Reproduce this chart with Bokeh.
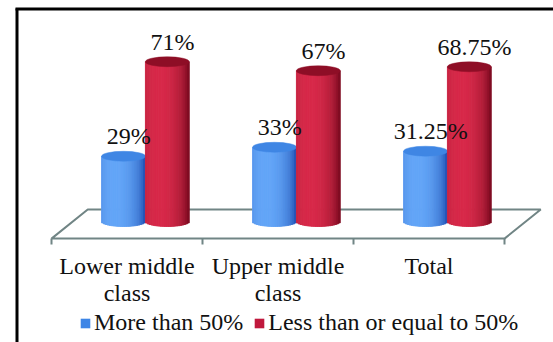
import numpy as np
from bokeh.plotting import figure
from bokeh.models import Range1d, ColumnDataSource, Legend, LegendItem
from bokeh.core.properties import value
from bokeh.embed import file_html
from bokeh.resources import INLINE

# ---- data -------------------------------------------------------------
categories = ["Lower middle\nclass", "Upper middle\nclass", "Total"]
series_names = ["More than 50%", "Less than or equal to 50%"]
more_than_50 = [29, 33, 31.25]
less_equal_50 = [71, 67, 68.75]
more_labels = ["29%", "33%", "31.25%"]
less_labels = ["71%", "67%", "68.75%"]

# ---- layout constants -------------------------------------------------
W, H = 553, 342
PX_X = 151.0          # pixels per category
PX_Y = 2.25           # pixels per percent
X_START = -126.5 / PX_X
X_END = X_START + W / PX_X
Y_END = 221 / PX_Y
Y_START = Y_END - H / PX_Y

FONT = "Liberation Serif"
FONT_SIZE = "24px"
BAR_W = 0.29
BAR_SHIFT = 0.122     # bars stand half-way back on the floor
RY = 2.2              # half height of the cylinder ellipses
FLOOR_FRONT = -7.6
FLOOR_DEPTH_Y = 12.9
FLOOR_DEPTH_X = 0.24
N_STRIPS = 24

BLUE = dict(light=(100, 166, 248), dark=(22, 70, 172), top="#3f86e4")
RED = dict(light=(216, 42, 74), dark=(108, 6, 26), top="#8e0e26")


def px(x):
    return X_START + x / PX_X


def py(y):
    return Y_END - y / PX_Y


p = figure(width=W, height=H, output_backend="svg", toolbar_location=None,
           x_range=Range1d(X_START, X_END), y_range=Range1d(Y_START, Y_END),
           min_border=0, outline_line_color=None)
p.axis.visible = False
p.grid.visible = False
p.background_fill_color = "white"
p.border_fill_color = "white"

# frame lines (top and left)
p.segment(x0=[px(15), px(16.5)], y0=[py(8.5), py(8)],
          x1=[px(553), px(16.5)], y1=[py(8.5), py(342)],
          line_color="black", line_width=3)

# 3-D floor
idx = np.arange(len(categories))
fl, fr = idx[0] - 0.5, idx[-1] + 0.5
p.patch(x=[fl, fr, fr + FLOOR_DEPTH_X, fl + FLOOR_DEPTH_X],
        y=[FLOOR_FRONT, FLOOR_FRONT, FLOOR_FRONT + FLOOR_DEPTH_Y, FLOOR_FRONT + FLOOR_DEPTH_Y],
        fill_color="white", line_color="#718585", line_width=2)
ticks = np.arange(len(categories) + 1) - 0.5
p.segment(x0=ticks, y0=[FLOOR_FRONT] * len(ticks), x1=ticks,
          y1=[FLOOR_FRONT - 6 / PX_Y] * len(ticks), line_color="#718585", line_width=2)


def shade(light, dark, n):
    u = (np.arange(n) + 0.5) / n * 2 - 1
    t = np.clip(1 - ((u + 0.35) / 1.35) ** 2, 0, 1) ** 0.6
    cols = ["#%02x%02x%02x" % tuple(int(d + (l - d) * tt) for l, d in zip(light, dark)) for tt in t]
    return u, cols


def cylinders(centres, heights, style):
    u, cols = shade(style["light"], style["dark"], N_STRIPS)
    left, right, bottom, top, color = [], [], [], [], []
    for cx, h in zip(centres, heights):
        for k in range(N_STRIPS):
            l = cx - BAR_W / 2 + k * BAR_W / N_STRIPS
            left.append(l)
            right.append(l + BAR_W / N_STRIPS)
            bottom.append(-RY * np.sqrt(1 - u[k] ** 2))
            top.append(h)
            color.append(cols[k])
    src = ColumnDataSource(dict(left=left, right=right, bottom=bottom, top=top, color=color))
    p.quad(left="left", right="right", bottom="bottom", top="top", source=src,
           fill_color="color", line_color="color", line_width=1)
    p.ellipse(x=centres, y=heights, width=BAR_W, height=2 * RY,
              fill_color=style["top"], line_color=style["top"], line_width=0.5)


blue_x = idx + BAR_SHIFT - BAR_W / 2
red_x = idx + BAR_SHIFT + BAR_W / 2
cylinders(blue_x, more_than_50, BLUE)
cylinders(red_x, less_equal_50, RED)

# value labels
for xs, vals, labs in ((blue_x, more_than_50, more_labels), (red_x, less_equal_50, less_labels)):
    p.text(x=xs + 0.035, y=vals, text=labs, text_font=value(FONT), text_font_size=FONT_SIZE,
           text_align="center", text_baseline="alphabetic", y_offset=-20, text_color="#111111")

# category labels
p.text(x=idx, y=[py(252)] * len(idx), text=categories, text_font=value(FONT),
       text_font_size=FONT_SIZE, text_align="center", text_baseline="top",
       text_line_height=1.04, text_color="#111111")

# legend
r_more = p.quad(left=[X_START - 2], right=[X_START - 1.9], bottom=[0], top=[1],
                fill_color="#3d85e6", line_color=None)
r_less = p.quad(left=[X_START - 2], right=[X_START - 1.9], bottom=[0], top=[1],
                fill_color="#c0183c", line_color=None)
legend = Legend(items=[LegendItem(label=series_names[0], renderers=[r_more]),
                       LegendItem(label=series_names[1], renderers=[r_less])],
                orientation="horizontal", location=(79, 6),
                glyph_width=12, glyph_height=12, label_standoff=3, spacing=10,
                padding=0, margin=0, border_line_color=None, background_fill_alpha=0,
                label_text_font=FONT, label_text_font_size=FONT_SIZE,
                label_text_color="#111111", label_height=20)
p.add_layout(legend)

open("out.html", "w").write(file_html(p, INLINE))
